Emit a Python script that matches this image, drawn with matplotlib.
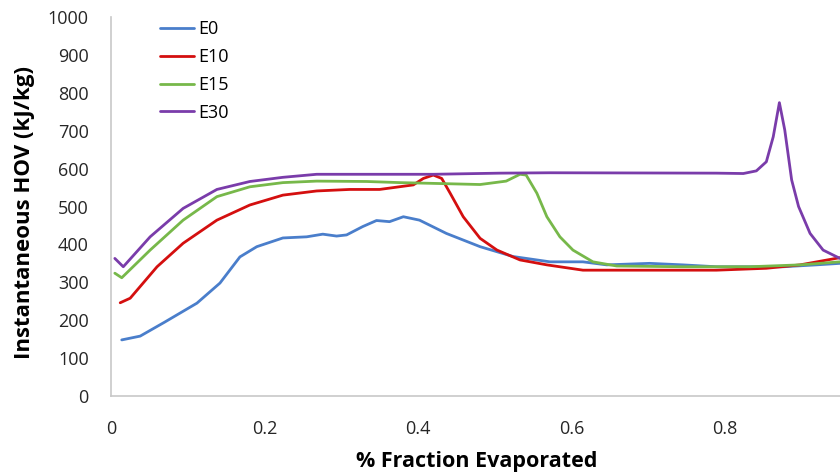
import matplotlib
matplotlib.use('Agg')
import matplotlib.pyplot as plt

plt.rcParams['font.family'] = ['Open Sans', 'DejaVu Sans']

# values
e0_x = [0.014, 0.038, 0.07, 0.112, 0.142, 0.168, 0.19, 0.224, 0.255, 0.276, 0.294, 0.307,
        0.328, 0.346, 0.363, 0.381, 0.402, 0.437, 0.481, 0.524, 0.572, 0.615, 0.646, 0.702,
        0.745, 0.789, 0.876, 0.919, 0.95]
e0_y = [148, 158, 195, 245, 298, 367, 394, 417, 420, 427, 422, 425,
        447, 463, 460, 473, 464, 429, 394, 368, 354, 354, 346, 350,
        346, 341, 341, 346, 350]

e10_x = [0.012, 0.025, 0.06, 0.094, 0.138, 0.181, 0.224, 0.268, 0.311, 0.35, 0.394, 0.407,
         0.42, 0.431, 0.442, 0.459, 0.481, 0.503, 0.533, 0.568, 0.615, 0.702, 0.789, 0.854,
         0.898, 0.95]
e10_y = [246, 258, 341, 403, 464, 504, 530, 541, 545, 545, 557, 574,
         583, 574, 535, 473, 416, 385, 359, 346, 332, 332, 332, 337,
         346, 365]

e15_x = [0.005, 0.014, 0.051, 0.094, 0.138, 0.181, 0.224, 0.268, 0.333, 0.377, 0.42, 0.481,
         0.515, 0.533, 0.541, 0.555, 0.568, 0.585, 0.602, 0.628, 0.659, 0.745, 0.832, 0.898,
         0.95]
e15_y = [324, 312, 385, 464, 526, 552, 563, 567, 566, 563, 561, 558,
         567, 585, 583, 535, 473, 420, 385, 354, 343, 341, 341, 346,
         354]

e30_x = [0.005, 0.016, 0.051, 0.094, 0.138, 0.181, 0.224, 0.268, 0.333, 0.42, 0.507, 0.572,
         0.789, 0.824, 0.841, 0.854, 0.863, 0.871, 0.878, 0.887, 0.896, 0.911, 0.928, 0.945,
         0.95]
e30_y = [363, 341, 420, 495, 545, 566, 577, 585, 585, 585, 588, 589,
         588, 587, 594, 618, 684, 774, 702, 570, 500, 429, 385, 368,
         363]

series = [
    ('E0', e0_x, e0_y, '#4a7ecb'),
    ('E10', e10_x, e10_y, '#d40f0f'),
    ('E15', e15_x, e15_y, '#77b84a'),
    ('E30', e30_x, e30_y, '#7a3caa'),
]

fig = plt.figure(figsize=(8.4, 4.72), dpi=100)
ax = fig.add_axes([111 / 840, 1 - 396 / 472, 1 - 111 / 840, (396 - 17) / 472])

for name, xs, ys, col in series:
    ax.plot(xs, ys, color=col, lw=2.0, label=name, solid_capstyle='round')

ax.set_xlim(0, 0.95)
ax.set_ylim(0, 1000)
ax.set_xticks([0, 0.2, 0.4, 0.6, 0.8])
ax.set_xticklabels(['0', '0.2', '0.4', '0.6', '0.8'])
ax.set_yticks(range(0, 1001, 100))
ax.tick_params(length=0, labelsize=13, colors='#262626')
ax.tick_params(axis='y', pad=16)
ax.tick_params(axis='x', pad=17)

for side in ['top', 'right']:
    ax.spines[side].set_visible(False)
for side in ['left', 'bottom']:
    ax.spines[side].set_color('#c8c8c8')
    ax.spines[side].set_linewidth(1.2)

ax.set_xlabel('% Fraction Evaporated', fontsize=15.5, fontweight='bold', va='center')
ax.set_ylabel('Instantaneous HOV (kJ/kg)', fontsize=16, fontweight='bold', va='center')
ax.xaxis.set_label_coords(0.502, -0.174)
ax.yaxis.set_label_coords(-0.119, 0.485)

ax.legend(loc='upper left', bbox_to_anchor=(160 / 840, 1 - 20 / 472),
          bbox_transform=fig.transFigure, frameon=False, fontsize=13,
          handlelength=1.9, handletextpad=0.2, labelspacing=0.55,
          borderpad=0, borderaxespad=0)

fig.savefig('out.png', dpi=100)
